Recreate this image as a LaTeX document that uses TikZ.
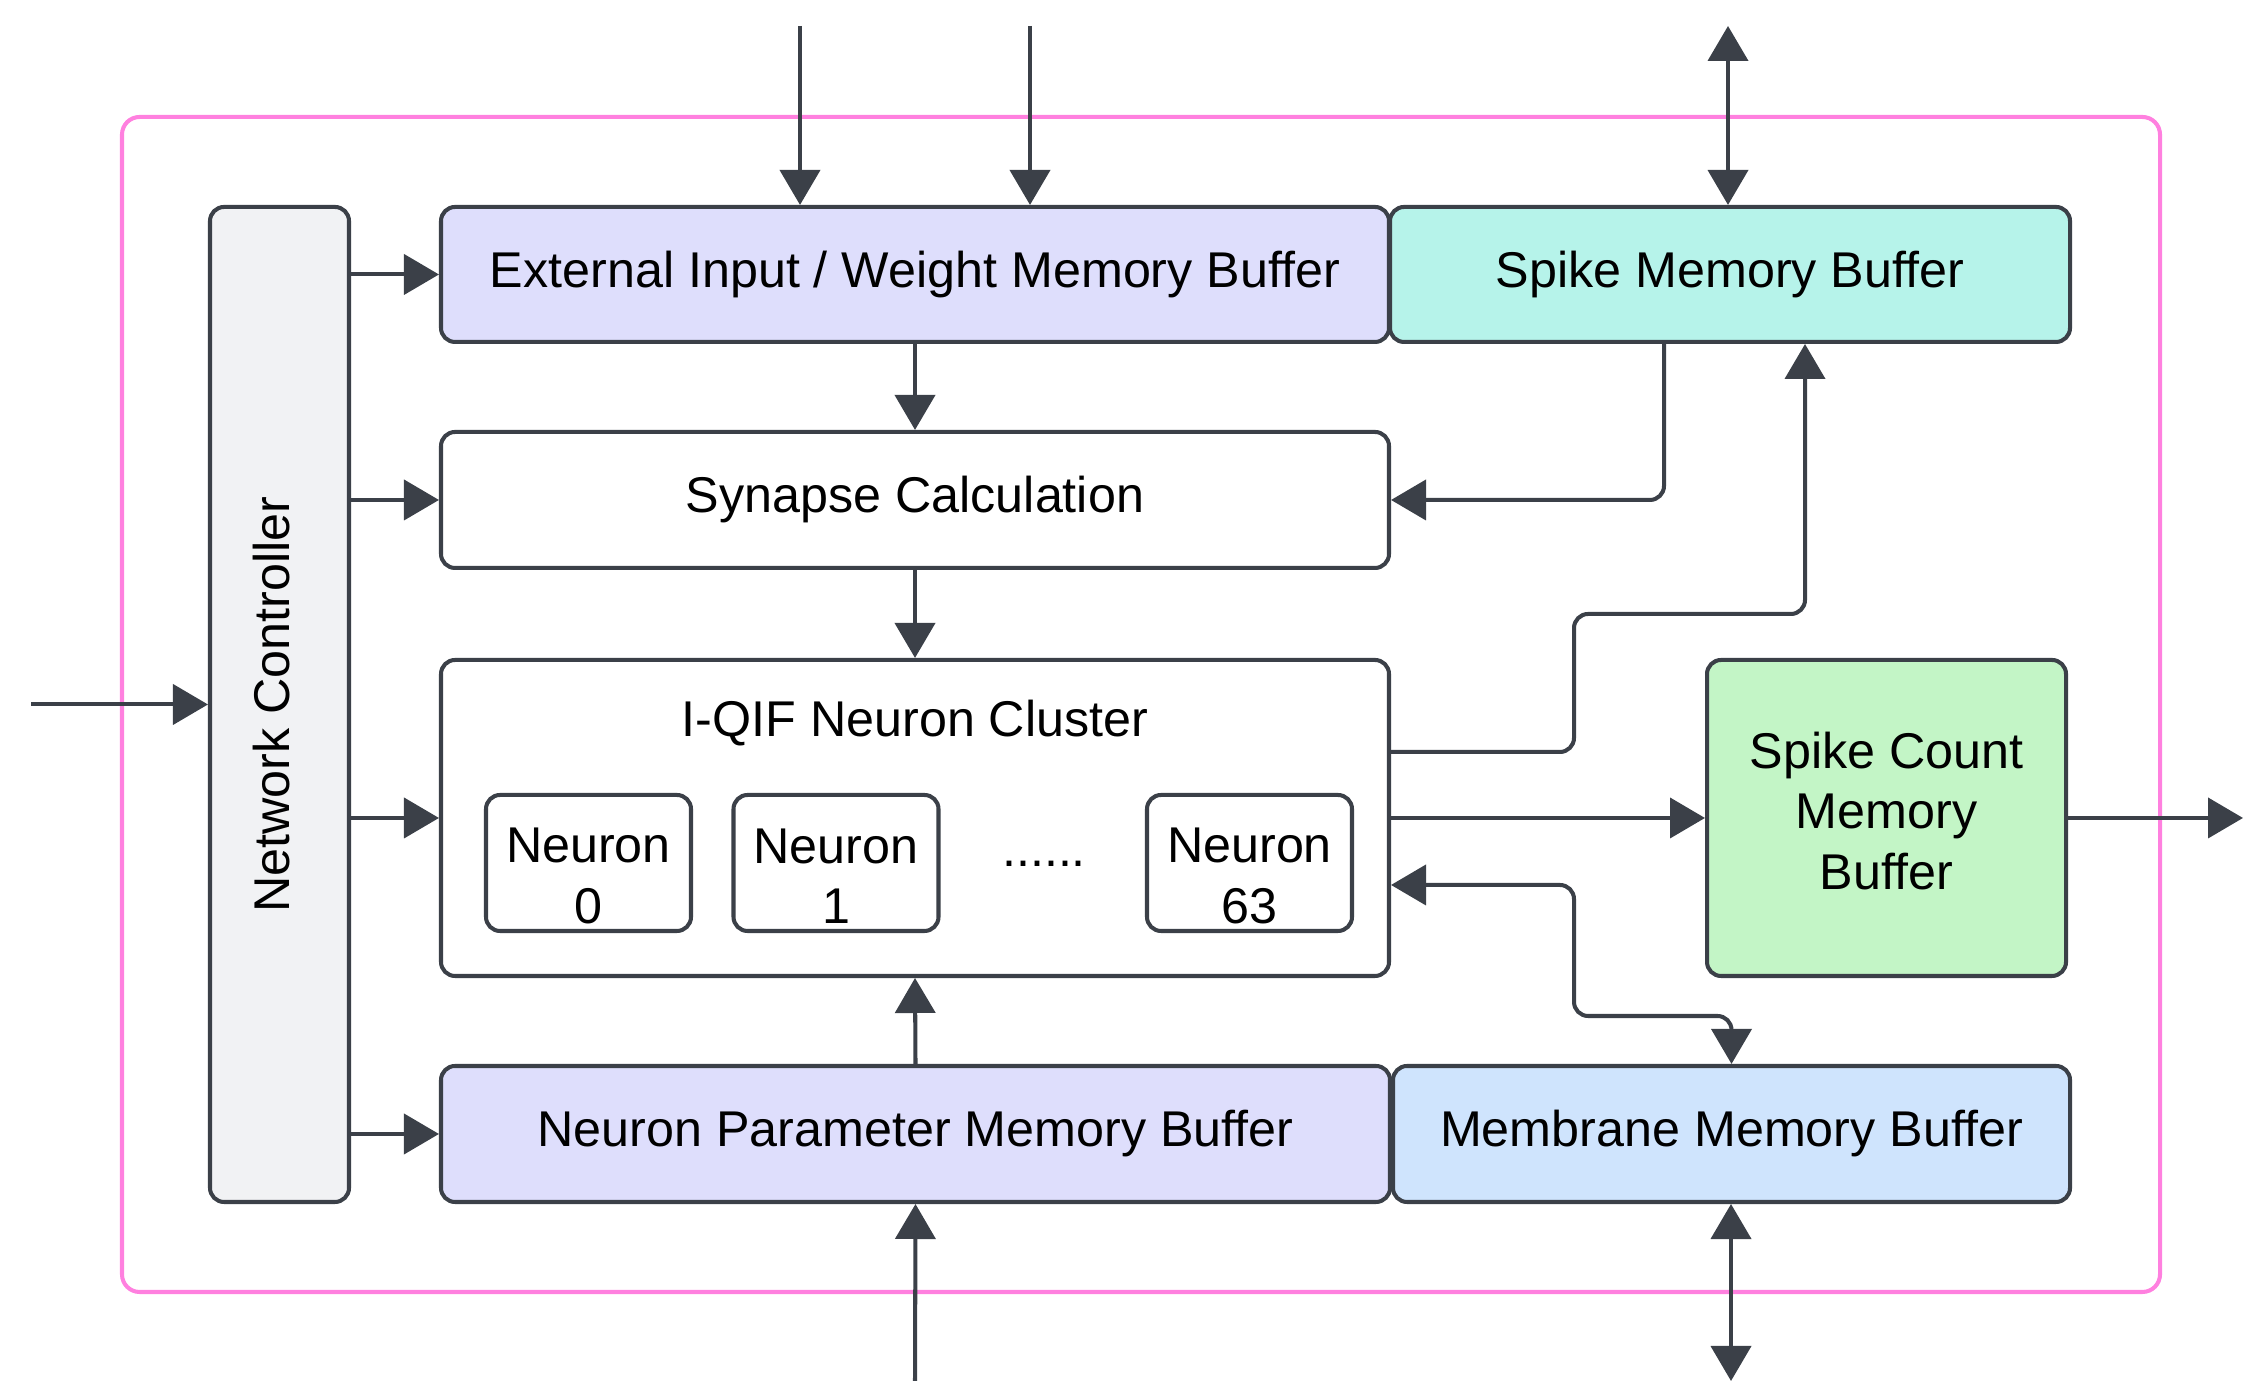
\documentclass[tikz,border=0pt]{standalone}
\usepackage{fontspec}
\setmainfont{Liberation Sans}
\usepackage{xcolor}
\usetikzlibrary{positioning,arrows.meta,shapes}
\definecolor{linegray}{HTML}{3B4048}
\definecolor{framepink}{HTML}{FF80DF}
\definecolor{lavender}{HTML}{DEDEFC}
\definecolor{spikecyan}{HTML}{B6F3EA}
\definecolor{countgreen}{HTML}{C3F5C6}
\definecolor{membblue}{HTML}{CFE4FD}
\definecolor{ctrlgray}{HTML}{F1F2F4}
\tikzset{tri/.tip={Triangle[width=0.40cm,length=0.35cm]}}

\begin{document}
\begin{tikzpicture}[
        font=\fontsize{14.3}{17.1}\selectfont,
        box/.style={draw=linegray, line width=1.15pt, rectangle, rounded corners=4pt, align=center, inner sep=0pt},
        link/.style={draw=linegray, line width=1.15pt, rounded corners=4pt, -tri},
        dlink/.style={link, tri-tri}
    ]
        \useasboundingbox (0,0) rectangle (22.43,13.81);

        % outer frame
        \node[draw=framepink, line width=1.15pt, rounded corners=5pt, minimum width=20.38cm, minimum height=11.75cm] (frame) at (11.41, 6.765) {};

        % controller (rotated, so north is its left side and south its right side)
        \node[box, fill=ctrlgray, rotate=90, minimum width=9.95cm, minimum height=1.39cm] (nc) at (2.795, 6.765) {};
        \node[rotate=90] (nctext) at ([xshift=-0.08cm]nc.center) {Network Controller};

        \node[box, fill=lavender, minimum width=9.48cm, minimum height=1.35cm] (ext) at (9.15, 11.065) {External Input / Weight Memory Buffer};
        \node[box, fill=spikecyan, minimum width=6.80cm, minimum height=1.35cm] (spk) at (17.30, 11.065) {Spike Memory Buffer};
        \node[box, fill=white, minimum width=9.48cm, minimum height=1.36cm] (syn) at (9.15, 8.81) {Synapse Calculation};

        % neuron cluster
        \node[box, fill=white, minimum width=9.48cm, minimum height=3.16cm] (clu) at (9.15, 5.63) {};
        \node (title) at (9.15, 6.58) {I-QIF Neuron Cluster};
        \node[box, minimum width=2.05cm, minimum height=1.36cm] (n0) at (5.885, 5.18) {};
        \node[box, minimum width=2.05cm, minimum height=1.36cm] (n1) at (8.36, 5.18) {};
        \node[box, minimum width=2.05cm, minimum height=1.36cm] (n63) at (12.495, 5.18) {};
        \node[align=center] (n0text) at ([yshift=-0.13cm]n0.center) {Neuron\\0};
        \node[align=center] (n1text) at ([yshift=-0.13cm]n1.center) {Neuron\\1};
        \node[align=center] (n63text) at ([yshift=-0.13cm]n63.center) {Neuron\\63};
        \node[anchor=base] (dots) at (10.44, 5.14) {......};

        \node[box, fill=countgreen, minimum width=3.59cm, minimum height=3.16cm] (cnt) at (18.865, 5.63) {};
        \node[align=center] (cnttext) at ([yshift=0.07cm]cnt.center) {Spike Count\\Memory\\Buffer};
        \node[box, fill=lavender, minimum width=9.49cm, minimum height=1.36cm] (par) at (9.155, 2.47) {Neuron Parameter Memory Buffer};
        \node[box, fill=membblue, minimum width=6.77cm, minimum height=1.36cm] (mem) at (17.315, 2.47) {Membrane Memory Buffer};

        % free ends and bends
        \coordinate (extin1) at (8.00, 13.55);
        \coordinate (extin2) at (10.30, 13.55);
        \coordinate (spkio) at (17.28, 13.55);
        \coordinate (ctlin) at (0.31, 6.765);
        \coordinate (parin) at (9.15, 0);
        \coordinate (memio) at (17.31, 0);
        \coordinate (cntout) at (22.43, 5.63);
        \coordinate (bendup) at (15.74, 7.67);
        \coordinate (benddown) at (15.74, 3.65);

        % external connections
        \draw[link] (extin1) -- (extin1 |- ext.north);
        \draw[link] (extin2) -- (extin2 |- ext.north);
        \draw[dlink] (spkio) -- (spkio |- spk.north);
        \draw[link] (ctlin) -- (nc.north);
        \draw[link] (parin) -- (par.south);
        \draw[dlink] (memio) -- (memio |- mem.south);
        \draw[link] (cnt.east) -- (cntout);

        % controller arrows
        \draw[link] (nc.south |- ext.west) -- (ext.west);
        \draw[link] (nc.south |- syn.west) -- (syn.west);
        \draw[link] (nc.south |- clu.west) -- (clu.west);
        \draw[link] (nc.south |- par.west) -- (par.west);

        % data flow
        \draw[link] (ext.south) -- (syn.north);
        \draw[link] (syn.south) -- (clu.north);
        \draw[link] (par.north) -- (clu.south);
        \draw[link] ([xshift=-0.66cm]spk.south) |- (syn.east);
        \draw[link] ([yshift=0.66cm]clu.east) -| (bendup) -| ([xshift=0.75cm]spk.south);
        \draw[link] (clu.east) -- (cnt.west);
        \draw[dlink] ([yshift=-0.67cm]clu.east) -| (benddown) -| (mem.north);
    \end{tikzpicture}
\end{document}
